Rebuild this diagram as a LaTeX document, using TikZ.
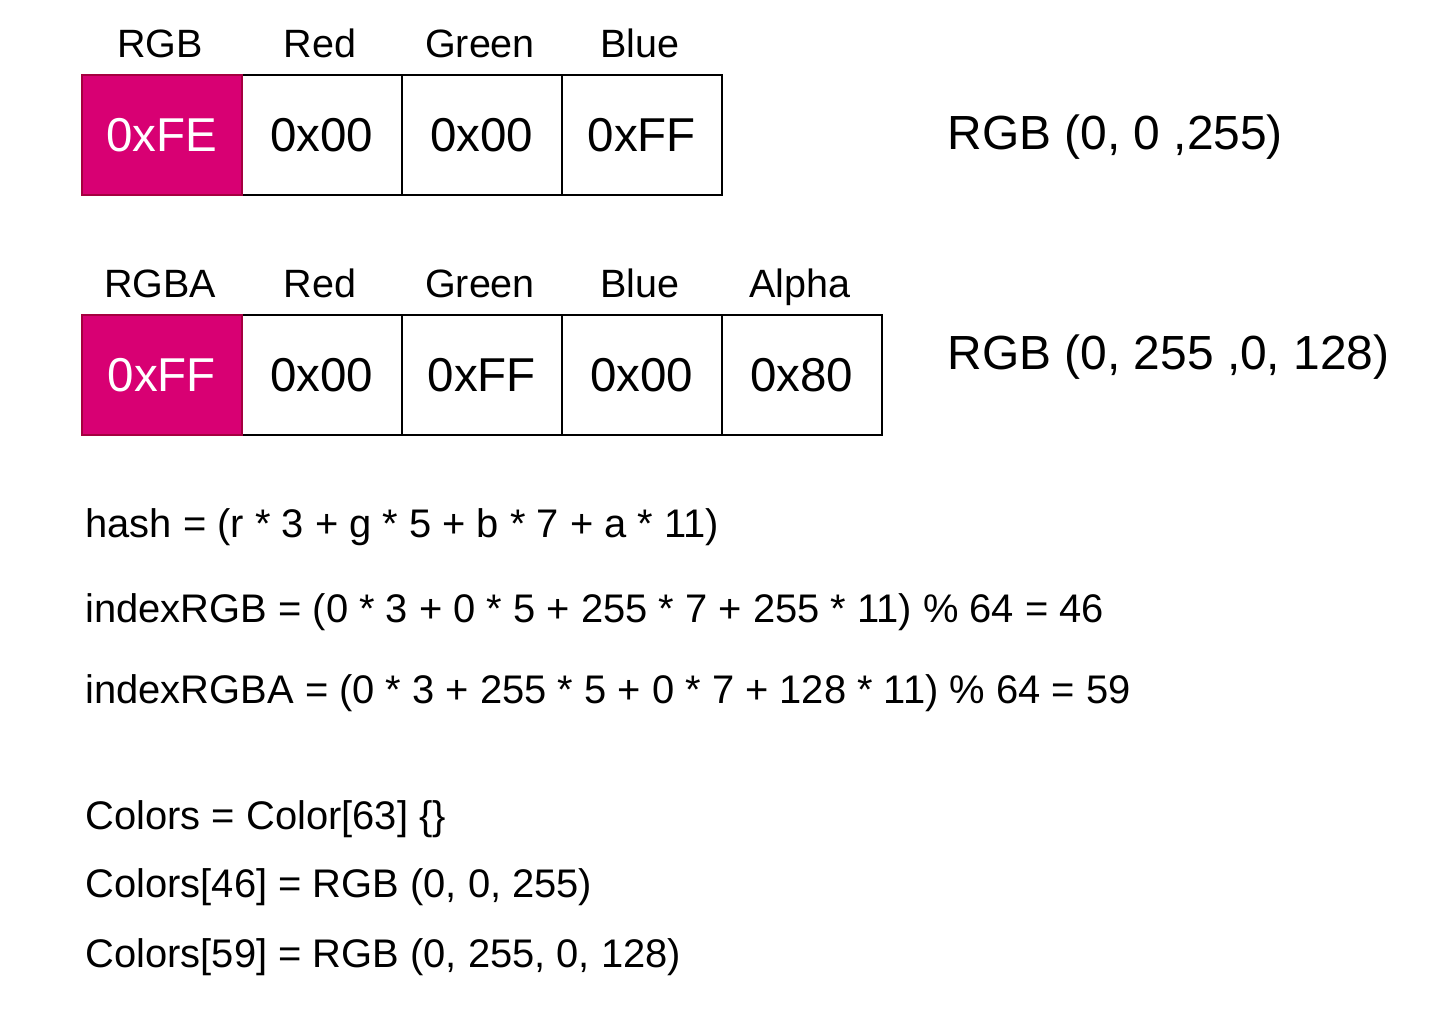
\documentclass[tikz,border=0pt]{standalone}
\usepackage{fontspec}
\setmainfont{Liberation Sans}
\definecolor{mag}{HTML}{D80073}
\definecolor{magline}{HTML}{A50040}
\begin{document}
\begin{tikzpicture}[x=1pt,y=-1pt,
  cell/.style={draw=black,line width=1.5pt,minimum width=160pt,minimum height=120pt,inner sep=0pt,anchor=north west,font=\fontsize{47.5}{52}\selectfont},
  magcell/.style={cell,fill=mag,draw=magline,text=white},
  hdr/.style={anchor=base,font=\fontsize{39.5}{44}\selectfont},
  big/.style={anchor=base west,font=\fontsize{47.9}{52}\selectfont},
  eq/.style={anchor=base west,font=\fontsize{39.9}{44}\selectfont}]
\useasboundingbox (0,0) rectangle (1455,1021);
% row 1
\node[cell] (a2) at (241,74) {0x00};
\node[cell] (a3) at (401,74) {0x00};
\node[cell] (a4) at (561,74) {0xFF};
\node[magcell] (a1) at (81,74) {0xFE};
\node[hdr] (h1) at (160,57) {RGB};
\node[hdr] (h2) at (320,57) {Red};
\node[hdr] (h3) at (480,57) {Green};
\node[hdr] (h4) at (640,57) {Blue};
\node[big] (r1) at (944,149) {RGB (0, 0 ,255)};
% row 2
\node[cell] (b2) at (241,314) {0x00};
\node[cell] (b3) at (401,314) {0xFF};
\node[cell] (b4) at (561,314) {0x00};
\node[cell] (b5) at (721,314) {0x80};
\node[magcell] (b1) at (81,314) {0xFF};
\node[hdr] (g1) at (160,297) {RGBA};
\node[hdr] (g2) at (320,297) {Red};
\node[hdr] (g3) at (480,297) {Green};
\node[hdr] (g4) at (640,297) {Blue};
\node[hdr] (g5) at (800,297) {Alpha};
\node[big] (r2) at (944,369) {RGB (0, 255 ,0, 128)};
% equations
\node[eq] (e1) at (82,537) {hash = (r * 3 + g * 5 + b * 7 + a * 11)};
\node[eq] (e2) at (82,622) {indexRGB = (0 * 3 + 0 * 5 + 255 * 7 + 255 * 11) \% 64 = 46};
\node[eq] (e3) at (82,703) {indexRGBA = (0 * 3 + 255 * 5 + 0 * 7 + 128 * 11) \% 64 = 59};
\node[eq] (c1) at (82,829) {Colors = Color[63] \{\}};
\node[eq] (c2) at (82,897) {Colors[46] = RGB (0, 0, 255)};
\node[eq] (c3) at (82,967) {Colors[59] = RGB (0, 255, 0, 128)};
\end{tikzpicture}
\end{document}
